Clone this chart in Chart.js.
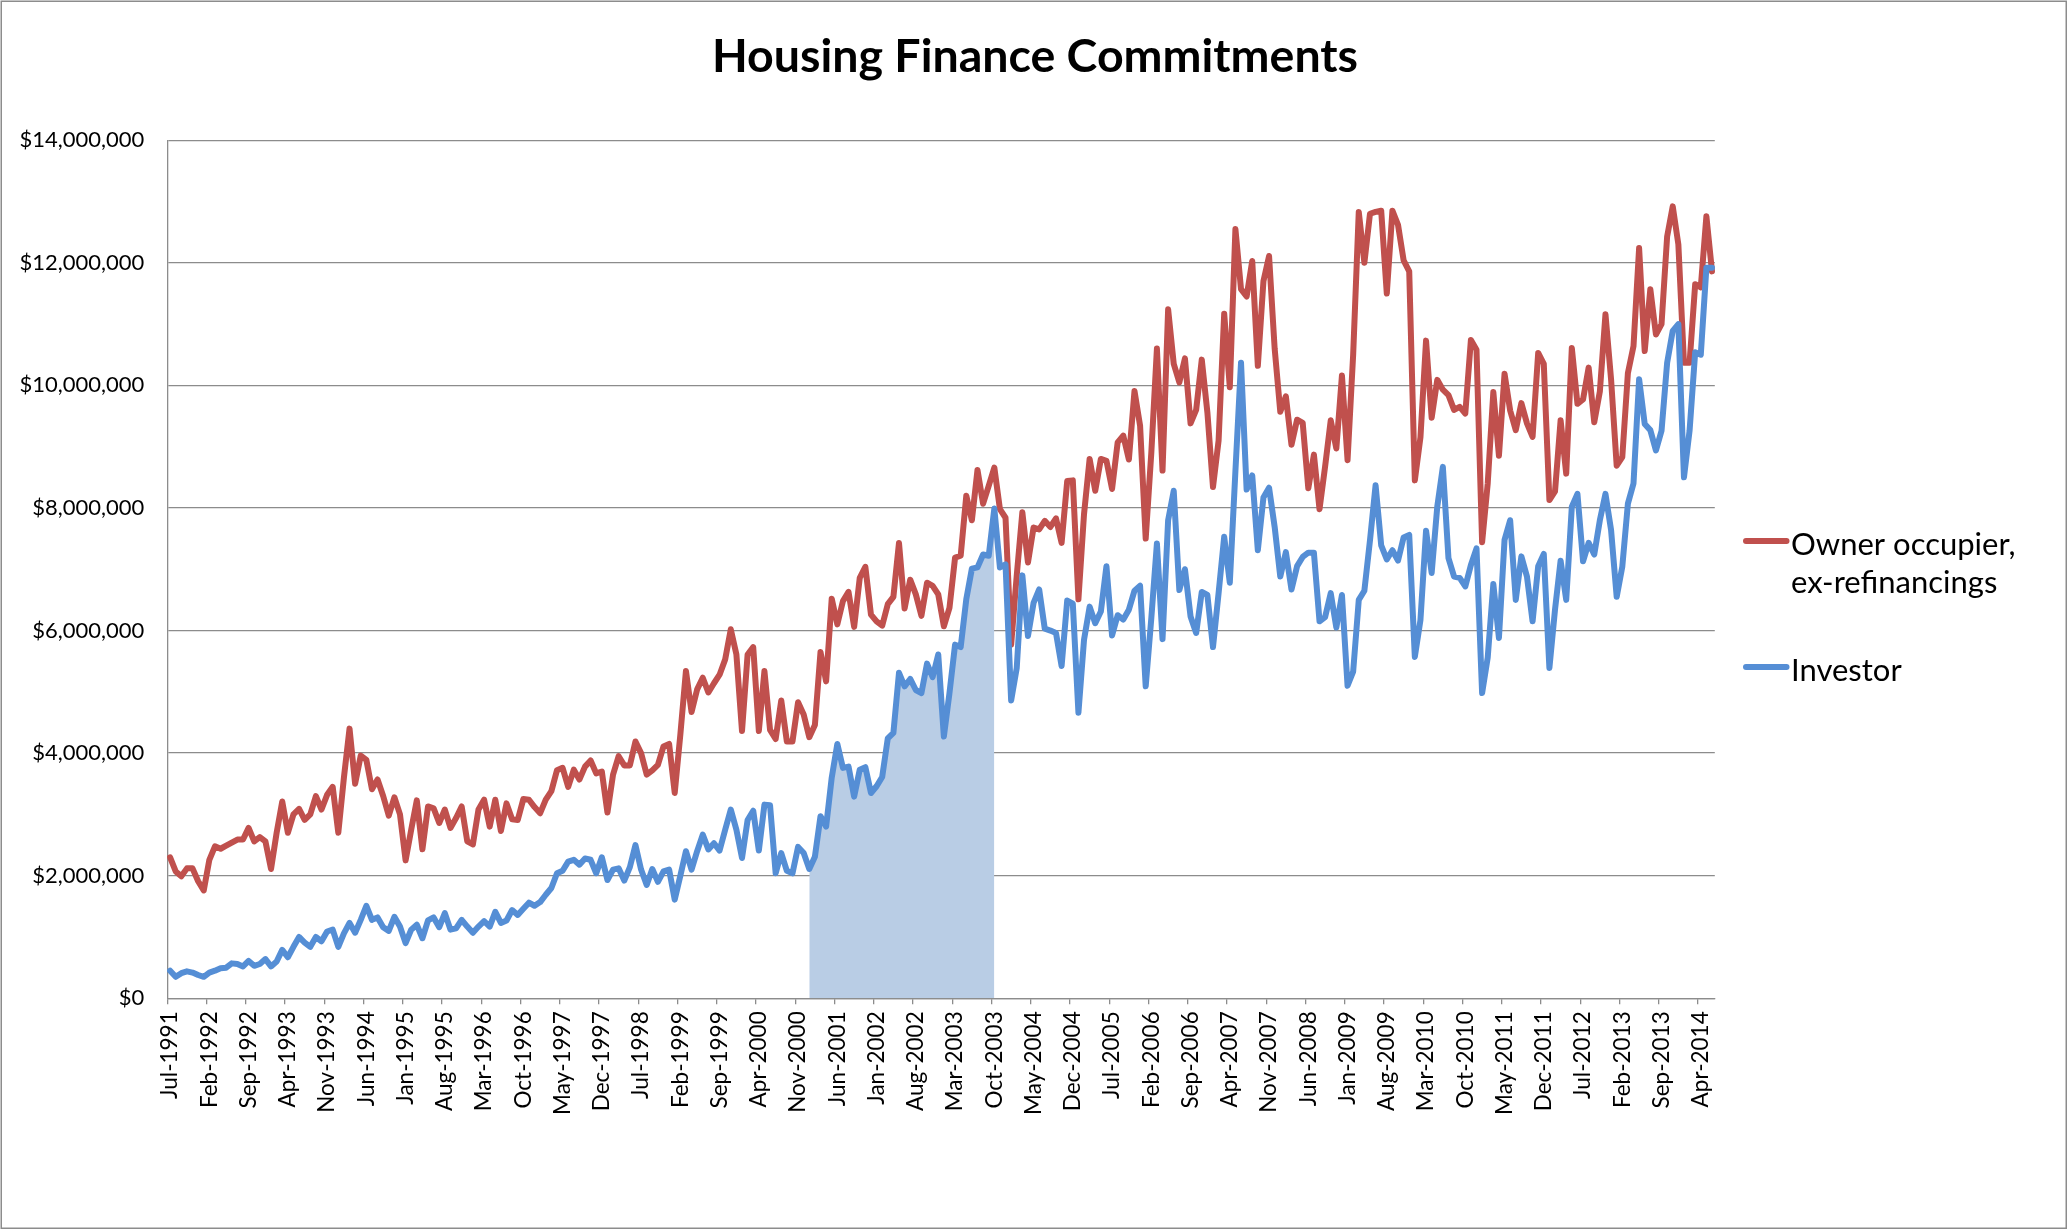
<!DOCTYPE html>
<html>
<head>
<meta charset="utf-8">
<script src="https://cdn.jsdelivr.net/npm/chart.js@4.4.0/dist/chart.umd.min.js"></script>
<style>
  html, body { margin: 0; padding: 0; background: #ffffff; }
  #wrap { width: 2070px; height: 1231px; position: relative; }
  canvas { display: block; }
</style>
</head>
<body>
<div id="wrap"><canvas id="c" width="2070" height="1231"></canvas></div>
<script>
// ---- Data (values in $ millions), monthly Jul-1991 .. Jun-2014 ----
const monthNames = ['Jan','Feb','Mar','Apr','May','Jun','Jul','Aug','Sep','Oct','Nov','Dec'];
const firstMonthIndex = 6;   // July
const firstYear = 1991;
const pointCount = 276;
const categories = [];
for (let k = 0; k < pointCount; k++) {
  const m = (firstMonthIndex + k) % 12;
  const y = firstYear + Math.floor((firstMonthIndex + k) / 12);
  categories.push(monthNames[m] + '-' + y);
}

const ownerOccupier = [
  2.30,2.07,1.99,2.12,2.12,1.91,1.76,2.26,2.48,2.44,2.49,2.54,
  2.59,2.59,2.78,2.56,2.63,2.56,2.11,2.70,3.21,2.70,3.00,3.09,
  2.91,3.00,3.30,3.08,3.32,3.45,2.70,3.60,4.40,3.50,3.96,3.89,
  3.41,3.57,3.30,2.98,3.28,3.00,2.25,2.75,3.23,2.43,3.13,3.10,
  2.86,3.08,2.78,2.94,3.13,2.56,2.51,3.08,3.24,2.80,3.24,2.73,
  3.18,2.92,2.91,3.25,3.24,3.12,3.02,3.24,3.38,3.72,3.76,3.45,
  3.73,3.57,3.78,3.88,3.67,3.70,3.03,3.65,3.95,3.80,3.80,4.19,
  4.00,3.65,3.72,3.81,4.11,4.15,3.35,4.30,5.34,4.67,5.04,5.23,
  4.99,5.14,5.28,5.53,6.02,5.61,4.36,5.61,5.73,4.36,5.34,4.38,
  4.23,4.86,4.19,4.19,4.83,4.63,4.26,4.46,5.65,5.17,6.52,6.10,
  6.48,6.63,6.06,6.86,7.04,6.26,6.15,6.08,6.43,6.55,7.43,6.36,
  6.83,6.59,6.24,6.78,6.73,6.59,6.07,6.37,7.19,7.22,8.20,7.80,
  8.62,8.07,8.36,8.66,7.98,7.84,5.77,6.90,7.93,7.11,7.68,7.65,
  7.79,7.69,7.83,7.43,8.44,8.45,6.51,7.90,8.80,8.28,8.80,8.77,
  8.31,9.07,9.18,8.79,9.91,9.34,7.50,8.90,10.60,8.61,11.24,10.35,
  10.05,10.44,9.38,9.60,10.42,9.56,8.34,9.10,11.17,9.97,12.55,11.57,
  11.45,12.03,10.32,11.70,12.11,10.60,9.57,9.82,9.03,9.44,9.39,8.32,
  8.87,7.98,8.68,9.43,8.97,10.16,8.78,10.50,12.83,12.00,12.80,12.83,
  12.85,11.50,12.85,12.62,12.04,11.86,8.45,9.15,10.73,9.47,10.09,9.93,
  9.84,9.60,9.65,9.54,10.74,10.58,7.44,8.40,9.89,8.85,10.19,9.59,
  9.27,9.71,9.38,9.16,10.53,10.35,8.13,8.27,9.43,8.56,10.61,9.70,
  9.77,10.29,9.40,9.90,11.16,10.10,8.69,8.83,10.20,10.64,12.24,10.56,
  11.57,10.83,11.00,12.43,12.92,12.30,10.37,10.37,11.65,11.60,12.76,11.86
];

const investor = [
  0.45,0.35,0.41,0.44,0.42,0.38,0.35,0.42,0.45,0.49,0.50,0.57,
  0.56,0.52,0.61,0.53,0.56,0.64,0.52,0.60,0.79,0.67,0.84,1.00,
  0.91,0.84,1.00,0.93,1.09,1.12,0.84,1.06,1.23,1.07,1.28,1.51,
  1.28,1.32,1.16,1.10,1.33,1.17,0.90,1.12,1.20,0.98,1.27,1.32,
  1.16,1.39,1.12,1.14,1.28,1.17,1.07,1.17,1.26,1.17,1.41,1.23,
  1.27,1.44,1.36,1.46,1.56,1.51,1.57,1.69,1.80,2.04,2.08,2.23,
  2.26,2.18,2.28,2.26,2.04,2.30,1.93,2.10,2.12,1.92,2.14,2.50,
  2.10,1.85,2.11,1.90,2.07,2.10,1.61,2.00,2.40,2.10,2.40,2.67,
  2.43,2.53,2.41,2.75,3.08,2.75,2.29,2.91,3.06,2.41,3.16,3.15,
  2.04,2.37,2.08,2.04,2.47,2.37,2.11,2.31,2.97,2.80,3.60,4.15,
  3.76,3.78,3.29,3.73,3.77,3.35,3.46,3.61,4.24,4.33,5.31,5.09,
  5.21,5.03,4.98,5.46,5.24,5.61,4.27,4.98,5.77,5.73,6.51,7.01,
  7.03,7.24,7.22,7.99,7.03,7.08,4.86,5.39,6.90,5.91,6.45,6.67,
  6.03,6.00,5.96,5.42,6.49,6.44,4.66,5.85,6.39,6.12,6.31,7.05,
  5.92,6.25,6.18,6.34,6.65,6.73,5.09,6.20,7.42,5.86,7.80,8.28,
  6.66,7.00,6.23,5.96,6.63,6.58,5.73,6.61,7.53,6.78,8.60,10.37,
  8.30,8.53,7.31,8.17,8.33,7.69,6.88,7.28,6.67,7.05,7.20,7.27,
  7.27,6.15,6.22,6.61,6.05,6.58,5.10,5.33,6.50,6.65,7.47,8.37,
  7.39,7.16,7.31,7.14,7.52,7.56,5.57,6.17,7.63,6.94,8.02,8.67,
  7.18,6.88,6.86,6.72,7.07,7.34,4.98,5.56,6.76,5.88,7.48,7.80,
  6.50,7.21,6.88,6.15,7.05,7.25,5.39,6.34,7.14,6.50,8.02,8.23,
  7.13,7.43,7.24,7.80,8.23,7.64,6.55,7.04,8.07,8.40,10.10,9.37,
  9.27,8.94,9.26,10.37,10.89,11.00,8.50,9.26,10.54,10.50,11.92,11.92
];

// shaded period (Jan-2001 .. Oct-2003) under the investor series
const shadeStart = 114;
const shadeEnd = 147;

const yTicks = [0, 2000000, 4000000, 6000000, 8000000, 10000000, 12000000, 14000000];
const labelEvery = 7;

// ---- Styles ----
const RED = '#C0504D';
const BLUE = '#558ED5';
const SHADE = '#B9CDE5';
const GRID = '#8C8C8C';
const FONT = 'Lato';

const ownerDollars = ownerOccupier.map(v => v * 1e6);
const investorDollars = investor.map(v => v * 1e6);
const shadeDollars = investorDollars.map((v, i) => (i >= shadeStart && i <= shadeEnd) ? v : null);

const backgroundPlugin = {
  id: 'bg',
  beforeDraw(chart) {
    const c = chart.ctx;
    c.save();
    c.fillStyle = '#ffffff';
    c.fillRect(0, 0, chart.width, chart.height);
    c.strokeStyle = '#8C8C8C';
    c.lineWidth = 1.5;
    c.strokeRect(1.25, 1.25, chart.width - 5, chart.height - 4);
    c.restore();
  }
};

const legendItems = [
  { color: RED, lines: ['Owner occupier,', 'ex-refinancings'], sampleY: 541, baselines: [555, 593] },
  { color: BLUE, lines: ['Investor'], sampleY: 667, baselines: [681] }
];

const legendPlugin = {
  id: 'customLegend',
  afterDraw(chart) {
    const c = chart.ctx;
    c.save();
    c.font = '31px ' + FONT;
    c.fillStyle = '#000000';
    c.textAlign = 'left';
    c.textBaseline = 'alphabetic';
    legendItems.forEach(item => {
      c.strokeStyle = item.color;
      c.lineWidth = 6;
      c.lineCap = 'round';
      c.beginPath();
      c.moveTo(1746, item.sampleY);
      c.lineTo(1786.5, item.sampleY);
      c.stroke();
      item.lines.forEach((t, k) => c.fillText(t, 1791, item.baselines[k]));
    });
    c.restore();
  }
};

const ctx = document.getElementById('c').getContext('2d');
new Chart(ctx, {
  type: 'line',
  data: {
    labels: categories,
    datasets: [
      {
        label: 'Owner occupier, ex-refinancings',
        data: ownerDollars,
        borderColor: RED,
        borderWidth: 6,
        pointRadius: 0,
        fill: false,
        tension: 0,
        borderJoinStyle: 'round',
        borderCapStyle: 'round',
        order: 2
      },
      {
        label: 'Investor',
        data: investorDollars,
        borderColor: BLUE,
        borderWidth: 6,
        pointRadius: 0,
        fill: false,
        tension: 0,
        borderJoinStyle: 'round',
        borderCapStyle: 'round',
        order: 1
      },
      {
        label: 'Shaded period',
        data: shadeDollars,
        borderColor: 'rgba(0,0,0,0)',
        borderWidth: 0,
        backgroundColor: SHADE,
        pointRadius: 0,
        fill: 'origin',
        spanGaps: false,
        tension: 0,
        order: 3
      }
    ]
  },
  options: {
    responsive: false,
    animation: false,
    devicePixelRatio: 1,
    layout: { padding: { left: 0, right: 0, top: 0, bottom: 0 } },
    plugins: {
      legend: { display: false },
      tooltip: { enabled: false },
      title: {
        display: true,
        text: 'Housing Finance Commitments',
        color: '#000000',
        font: { family: FONT, size: 46.5, weight: 'bold', lineHeight: 1.2 },
        padding: { top: 29, bottom: 55.4 }
      }
    },
    scales: {
      x: {
        type: 'category',
        offset: true,
        grid: {
          offset: true,
          drawOnChartArea: false,
          drawTicks: true,
          tickLength: 6,
          lineWidth: 1.3,
          color: (c) => (c.index % labelEvery === 0) ? GRID : 'rgba(0,0,0,0)'
        },
        border: { display: true, color: GRID, width: 1.3 },
        ticks: {
          autoSkip: false,
          maxRotation: 90,
          minRotation: 90,
          padding: 7,
          color: '#000000',
          font: { family: FONT, size: 22.5 },
          callback: (v, i) => (i % labelEvery === 0) ? categories[i] : ''
        },
        afterFit: (s) => { s.height = 232.7; }
      },
      y: {
        min: 0,
        max: 14000000,
        afterBuildTicks: (s) => { s.ticks = yTicks.map(v => ({ value: v })); },
        ticks: {
          padding: 23,
          color: '#000000',
          font: { family: FONT, size: 22 },
          callback: (v) => '$' + Number(v).toLocaleString('en-US')
        },
        grid: { color: GRID, lineWidth: 1.3, drawTicks: false },
        border: { display: true, color: GRID, width: 1.3 },
        afterFit: (s) => { s.width = 167.3; }
      },
      yRightSpace: {
        position: 'right',
        display: true,
        grid: { display: false, drawTicks: false },
        border: { display: false },
        ticks: { display: false },
        afterFit: (s) => { s.width = 355.2; }
      }
    }
  },
  plugins: [backgroundPlugin, legendPlugin]
});
</script>
</body>
</html>
